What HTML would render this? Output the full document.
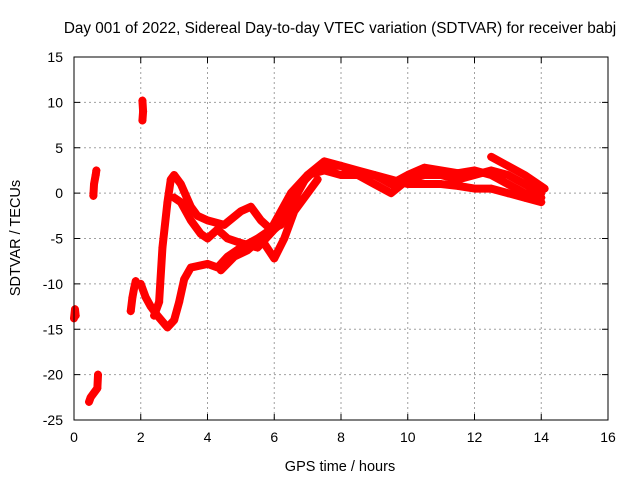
<!DOCTYPE html>
<html><head><meta charset="utf-8"><style>
body{margin:0;background:#fff}
svg{display:block;font-family:"Liberation Sans",Arial,sans-serif}
</style></head><body>
<svg id="chart" width="640" height="480" viewBox="0 0 640 480">
<rect width="640" height="480" fill="#fff"/>
<text x="340" y="33" font-size="15.3" text-anchor="middle">Day 001 of 2022, Sidereal Day-to-day VTEC variation (SDTVAR) for receiver babj</text>
<g id="grid"></g>
<g id="ticks"></g>
<g id="marks"></g>
<rect x="74" y="57" width="534" height="363" fill="none" stroke="#000" stroke-width="1"/>
<text x="340" y="471" font-size="14.5" text-anchor="middle">GPS time / hours</text>
<text x="20" y="238" font-size="14.5" text-anchor="middle" transform="rotate(-90 20 238)">SDTVAR / TECUs</text>
</svg>
<script>
const xTicks=[0,2,4,6,8,10,12,14,16];
const yTicks=[15,10,5,0,-5,-10,-15,-20,-25];
const s1=[[0,-13.8],[0.03,-12.8],[0.05,-13.5]];
const s2=[[0.45,-23],[0.5,-22.5],[0.6,-22],[0.7,-21.5],[0.72,-20]];
const s3=[[0.58,-0.3],[0.6,1],[0.65,2],[0.67,2.5]];
const s4=[[1.7,-13],[1.75,-11.5],[1.8,-10.5],[1.85,-9.7]];
const s5=[[2.05,8],[2.07,9],[2.05,10.2]];
const s6=[[2.0,-10],[2.15,-11.5],[2.3,-12.5],[2.5,-13.5],[2.8,-14.8],[3.0,-14],[3.15,-12],[3.3,-9.5],[3.5,-8.2],[4.0,-7.8],[4.3,-8.2],[4.6,-7],[5.0,-6],[5.5,-5],[5.9,-4],[6.2,-3.5],[6.5,-1],[6.8,1],[7.2,2.5],[7.6,3],[8.0,3],[8.5,2.5],[9.0,2],[9.5,1.5],[10,1],[10.5,1],[11,1],[11.5,0.8],[12,0.5],[12.5,0.5],[13,0],[13.5,-0.5],[14,-1]];
const s7=[[2.4,-13.5],[2.55,-12],[2.65,-6],[2.8,-1],[2.9,1.5],[3.0,2],[3.2,1],[3.5,-1.5],[3.7,-2.5],[4.0,-3],[4.5,-3.5],[5.0,-2],[5.3,-1.5],[5.6,-3],[5.9,-4],[6.2,-2],[6.5,0],[7.0,2],[7.5,3.5],[8,3],[8.5,2],[9,2],[9.5,1],[10,2],[10.5,2.8],[11,2.5],[11.5,2.2],[12,2.5],[12.5,2],[13,1],[13.5,0],[14,-0.5]];
const s8=[[3.0,-0.5],[3.2,-1],[3.5,-3],[3.8,-4.5],[4.0,-5],[4.3,-4],[4.6,-5],[5.0,-5.5],[5.5,-6],[6.0,-4],[6.3,-3],[6.7,0],[7.0,2],[7.5,2.5],[8.0,2],[8.5,2],[9.0,1],[9.5,0],[10,1.5],[10.5,2],[11,2],[11.5,1.5],[12,2],[12.5,2.5],[13,2],[13.5,1],[14,0]];
const s9=[[4.4,-8.5],[4.8,-7],[5.2,-6.3],[5.6,-5],[6.0,-7.2],[6.3,-5],[6.6,-2],[7.0,0],[7.3,1.5]];
const s10=[[12.5,4],[13,3],[13.5,2],[14.1,0.5]];
const seriesList=[s1,s2,s3,s4,s5,s6,s7,s8,s9,s10];
const NS='http://www.w3.org/2000/svg';
const X=v=>74+(v-0)*(534/16);
const Y=v=>57+(15-v)*(363/40);
function mk(t,a,p){const e=document.createElementNS(NS,t);for(const k in a)e.setAttribute(k,a[k]);p.appendChild(e);return e;}
const grid=document.getElementById('grid'),ticks=document.getElementById('ticks'),marks=document.getElementById('marks');
xTicks.forEach(t=>{
  const g=mk('line',{x1:X(t),x2:X(t),y1:57,y2:420,stroke:'#a0a0a0','stroke-dasharray':'2,3'},grid);
  
  
  mk('line',{x1:X(t),x2:X(t),y1:420,y2:414,stroke:'#000'},ticks);
  mk('line',{x1:X(t),x2:X(t),y1:57,y2:63,stroke:'#000'},ticks);
  const l=mk('text',{x:X(t),y:442,'font-size':14,'text-anchor':'middle'},ticks);
  l.textContent=t;
  
  
});
yTicks.forEach(t=>{
  const g=mk('line',{x1:74,x2:608,y1:Y(t),y2:Y(t),stroke:'#a0a0a0','stroke-dasharray':'2,3'},grid);
  
  
  mk('line',{x1:74,x2:80,y1:Y(t),y2:Y(t),stroke:'#000'},ticks);
  mk('line',{x1:602,x2:608,y1:Y(t),y2:Y(t),stroke:'#000'},ticks);
  const l=mk('text',{x:63,y:Y(t)+5,'font-size':14,'text-anchor':'end'},ticks);
  l.textContent=t;
  
  
});
seriesList.forEach((s,i)=>{
  const pts=s.map(p=>X(p[0])+','+Y(p[1])).join(' ');
  const pl=mk('polyline',{points:pts,fill:'none',stroke:'#f00','stroke-width':8,'stroke-linejoin':'round','stroke-linecap':'round'},marks);
  
  
  s.forEach(p=>{
    const cx=X(p[0]),cy=Y(p[1]);
    const c=mk('path',{d:`M${cx-4},${cy}H${cx+4}M${cx},${cy-4}V${cy+4}`,stroke:'#f00','stroke-width':1.2},marks);
    
    
  });
});
</script>
</body></html>
